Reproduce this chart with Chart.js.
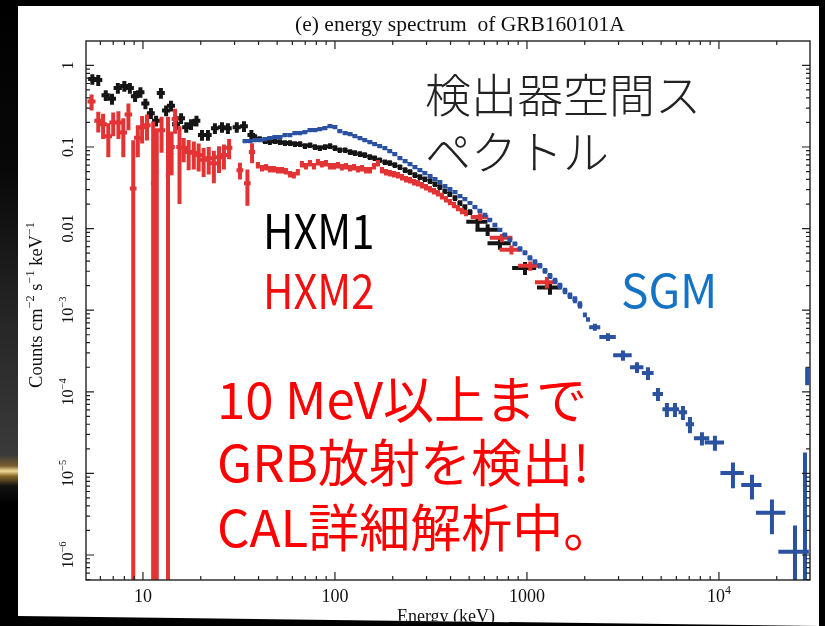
<!DOCTYPE html>
<html>
<head>
<meta charset="utf-8">
<title>GRB160101A energy spectrum</title>
<script src="https://cdn.jsdelivr.net/npm/chart.js@4.4.0/dist/chart.umd.min.js"></script>
<style>
  html, body { margin: 0; padding: 0; background: #000; }
  body { width: 825px; height: 626px; position: relative; overflow: hidden; }
  #edge {
    position: absolute; left: 0; top: 0; width: 18px; height: 626px;
    background: linear-gradient(to bottom, #000 0px, #080808 170px, #262626 320px, #3a3a3a 455px,
      #7a6030 466px, #f2dc98 471px, #8a6a28 476px, #121212 486px, #000 505px);
  }
  #panel {
    position: absolute; left: 18px; top: 6px; width: 801px; height: 620px; background: #fff;
    clip-path: polygon(0 0, 100% 0, 100% 100%, 0 610px);
  }
  #panel canvas { position: absolute; left: 0; top: 0; }
  .note { position: absolute; font-family: "Noto Sans CJK JP", sans-serif; font-weight: 400; white-space: nowrap; line-height: 1; }
  .light { font-weight: 300; }
  .narrow { transform: scaleX(0.87); transform-origin: left top; }
</style>
</head>
<body>
<div id="edge"></div>
<div id="panel">
  <canvas id="spectrum" width="801" height="620"></canvas>
  <div class="note light" style="left:407px; top:63px; font-size:46px; color:#222;">検出器空間ス</div>
  <div class="note light" style="left:407px; top:120px; font-size:46px; color:#222;">ペクトル</div>
  <div class="note narrow" style="left:245px; top:198px; font-size:48px; color:#000;">HXM1</div>
  <div class="note narrow" style="left:245px; top:258px; font-size:48px; color:#f01010;">HXM2</div>
  <div class="note" style="left:603px; top:259px; font-size:46px; color:#1573c3;">SGM</div>
  <div class="note" style="left:199px; top:366px; font-size:51px; color:#ff0000;">10 MeV以上まで</div>
  <div class="note" style="left:199px; top:429px; font-size:51px; color:#ff0000;">GRB放射を検出!</div>
  <div class="note" style="left:199px; top:494px; font-size:51px; color:#ff0000;">CAL詳細解析中。</div>
</div>

<script>
// ── Spectrum data (keV, counts cm^-2 s^-1 keV^-1) ───────────────────

const hxm1Energy = [5.45, 5.85, 6.4, 6.9, 7.4, 8.0, 8.55, 9.1, 9.7, 10.3, 11.0, 11.7, 12.4, 13.2, 14.0, 14.9, 15.8, 16.8, 17.8, 19.0,
  20.3, 21.8, 23.7, 25.8, 27.7, 30.8, 33.6, 36.7,
  38.3, 40.6, 43.2, 45.8, 48.7, 51.7, 54.9, 58.3, 61.9, 65.7, 69.8, 74.1, 78.7, 83.5, 88.7, 94.2, 100, 106, 113, 120,
  127, 135, 143, 152, 161, 171, 182, 193, 205, 218, 232, 246, 261, 277, 294, 313, 332, 352, 374, 397, 422, 448, 475, 505,
  553, 624, 723, 977, 1318];
const hxm1EnergyErr = [0.27, 0.29, 0.32, 0.34, 0.37, 0.4, 0.42, 0.45, 0.48, 0.5, 0.52, 0.55, 0.6, 0.64, 0.68, 0.72, 0.76, 0.8, 0.85, 0.9,
  0.95, 1.0, 1.1, 1.2, 1.3, 1.5, 1.6, 1.7,
  1.1, 1.2, 1.3, 1.4, 1.5, 1.6, 1.7, 1.8, 1.9, 2.0, 2.1, 2.2, 2.4, 2.5, 2.7, 2.8, 3.0, 3.2, 3.4, 3.6,
  3.8, 4.0, 4.3, 4.6, 4.8, 5.1, 5.5, 5.8, 6.2, 6.5, 7.0, 7.4, 7.8, 8.3, 8.8, 9.4, 10, 10.6, 11.2, 12, 12.6, 13.4, 14.2, 15.1,
  70, 85, 100, 140, 190];
const hxm1Rate = [0.68, 0.66, 0.43, 0.39, 0.53, 0.56, 0.53, 0.42, 0.47, 0.34, 0.26, 0.21, 0.46, 0.28, 0.32, 0.19, 0.225, 0.175, 0.19, 0.21,
  0.14, 0.14, 0.17, 0.175, 0.17, 0.175, 0.18, 0.14,
  0.132, 0.125, 0.118, 0.115, 0.118, 0.115, 0.112, 0.112, 0.1085, 0.1085, 0.1026, 0.1055, 0.0997, 0.0969, 0.0997, 0.1026, 0.0969, 0.0916, 0.0916, 0.0866,
  0.0842, 0.0819, 0.0796, 0.0752, 0.0731, 0.0691, 0.0653, 0.0635, 0.0600, 0.0567, 0.0521, 0.0493, 0.0453, 0.0428, 0.0404, 0.0382, 0.0351, 0.0323, 0.0288, 0.0265, 0.0237, 0.0206, 0.0184, 0.0160,
  0.0121, 0.0097, 0.0066, 0.0033, 0.0019];
const hxm1RateErr = [0.1, 0.1, 0.065, 0.06, 0.08, 0.085, 0.08, 0.065, 0.07, 0.05, 0.04, 0.032, 0.07, 0.042, 0.048, 0.029, 0.034, 0.026, 0.029, 0.032,
  0.021, 0.021, 0.026, 0.026, 0.026, 0.026, 0.027, 0.021,
  0.011, 0.01, 0.0095, 0.009, 0.0095, 0.009, 0.009, 0.009, 0.0087, 0.0087, 0.0082, 0.0084, 0.008, 0.0078, 0.008, 0.0082, 0.0078, 0.0073, 0.0073, 0.0069,
  0.0067, 0.0066, 0.0064, 0.006, 0.0058, 0.0055, 0.0052, 0.0051, 0.0048, 0.0045, 0.0042, 0.0039, 0.0036, 0.0034, 0.0032, 0.0031, 0.0028, 0.0026, 0.0023, 0.0021, 0.0019, 0.0017, 0.0015, 0.0013,
  0.002, 0.0016, 0.0011, 0.0006, 0.00035];

const hxm2Energy = [5.4, 5.85, 6.2, 6.6, 7.0, 7.45, 7.9, 8.4, 8.9, 9.4, 9.9, 10.5, 11.3, 11.8, 12.5, 13.5, 14.1, 14.7, 15.5, 16.3,
  17.3, 18.4, 19.5, 20.7, 22.0, 23.4, 24.9, 26.4, 28.1, 32.0, 35.0, 37.0,
  39.7, 41.7, 43.8, 45.8, 48.1, 50.5, 53.0, 55.6, 58.3, 61.1, 64.1, 67.3, 70.6, 74.1, 77.8, 81.5, 85.5, 89.8, 94.2, 98.8,
  103.7, 108.7, 114.1, 119.7, 125.6, 131.8, 138.3, 145.0, 152.2, 159.7, 167.5, 175.8, 184.4, 193.3, 202.9, 212.9, 223.4, 234.4, 246.0, 257.9,
  270.6, 283.9, 297.9, 312.6, 328.0, 343.9, 360.8, 378.6, 397.2, 416.8, 437.3, 458.6, 481.1,
  569, 740, 830, 1040, 1270];
const hxm2EnergyErr = [0.26, 0.27, 0.29, 0.3, 0.32, 0.34, 0.36, 0.38, 0.36, 0.42, 0.44, 0.47, 0.3, 0.3, 0.55, 0.35, 0.55, 0.6, 0.6, 0.66,
  0.7, 0.75, 0.8, 0.85, 0.88, 0.92, 0.98, 1.05, 1.1, 1.3, 1.4, 1.4,
  1.0, 1.0, 1.1, 1.1, 1.2, 1.3, 1.3, 1.4, 1.5, 1.5, 1.6, 1.7, 1.8, 1.9, 1.9, 2.0, 2.1, 2.2, 2.4, 2.5,
  2.6, 2.7, 2.9, 3.0, 3.1, 3.3, 3.5, 3.6, 3.8, 4.0, 4.2, 4.4, 4.6, 4.8, 5.1, 5.3, 5.6, 5.9, 6.2, 6.4,
  6.8, 7.1, 7.4, 7.8, 8.2, 8.6, 9.0, 9.5, 9.9, 10.4, 10.9, 11.5, 12.0,
  60, 100, 110, 140, 170];
const hxm2Rate = [0.36, 0.21, 0.19, 0.135, 0.20, 0.20, 0.15, 0.25, 0.031, 0.13, 0.175, 0.185, 0.036, 0.05, 0.16, 0.045, 0.1, 0.22, 0.1, 0.097,
  0.087, 0.085, 0.08, 0.07, 0.073, 0.063, 0.075, 0.08, 0.098, 0.052, 0.036, 0.087,
  0.0600, 0.0551, 0.0567, 0.0536, 0.0536, 0.0521, 0.0521, 0.0507, 0.0466, 0.0453, 0.0493, 0.0617, 0.0583, 0.0635, 0.0583, 0.0653, 0.0617, 0.0635, 0.0583, 0.0583,
  0.0600, 0.0567, 0.0583, 0.0551, 0.0567, 0.0536, 0.0551, 0.0521, 0.0521, 0.0583, 0.0635, 0.0521, 0.0493, 0.0479, 0.0466, 0.0453, 0.0428, 0.0404, 0.0393, 0.0372,
  0.0361, 0.0342, 0.0323, 0.0305, 0.0288, 0.0273, 0.0251, 0.0230, 0.0212, 0.0195, 0.0179, 0.0165, 0.0156,
  0.0139, 0.0077, 0.0055, 0.0035, 0.0022];
const hxm2RateErr = [0.08, 0.06, 0.065, 0.06, 0.065, 0.075, 0.075, 0.09, 0.09, 0.055, 0.065, 0.065, 0.17, 0.12, 0.075, 0.19, 0.055, 0.075, 0.08, 0.032,
  0.035, 0.032, 0.03, 0.027, 0.027, 0.027, 0.027, 0.027, 0.027, 0.012, 0.017, 0.024,
  0.0055, 0.005, 0.0052, 0.0049, 0.0049, 0.0048, 0.0048, 0.0046, 0.0043, 0.0042, 0.0045, 0.0056, 0.0053, 0.0058, 0.0053, 0.0059, 0.0056, 0.0058, 0.0053, 0.0053,
  0.0055, 0.0052, 0.0053, 0.005, 0.0052, 0.0049, 0.005, 0.0048, 0.0048, 0.0053, 0.0058, 0.0048, 0.0045, 0.0044, 0.0042, 0.0041, 0.0039, 0.0037, 0.0036, 0.0034,
  0.0033, 0.0031, 0.0029, 0.0028, 0.0026, 0.0025, 0.0023, 0.0021, 0.0019, 0.0018, 0.0016, 0.0015, 0.0014,
  0.0015, 0.0009, 0.0007, 0.00045, 0.00035];

const sgmEnergy = [34.0, 36.1, 38.3, 40.6, 43.2, 45.8, 48.7, 51.7, 54.9, 58.3, 61.9, 65.7, 69.8, 74.1, 78.7, 83.5, 88.7, 94.2, 100, 106,
  113, 120, 127, 135, 143, 152, 161, 171, 182, 193, 205, 218, 232, 246, 261, 277, 294, 313, 332, 352,
  374, 397, 422, 448, 475, 505, 536, 569, 604, 641, 681, 723, 767, 815, 866, 920, 977, 1037, 1101, 1169,
  1242, 1318, 1400, 1486, 1578, 1675, 1778, 1888,
  2004, 2080, 2259, 2642, 3162, 3743, 4268, 4812, 5358, 5900, 6494, 7063, 8155, 9530, 11830, 14860, 18880, 24890, 28060, 28800];
const sgmEnergyErr = [1.0, 1.1, 1.1, 1.2, 1.3, 1.4, 1.5, 1.6, 1.6, 1.7, 1.9, 2.0, 2.1, 2.2, 2.4, 2.5, 2.7, 2.8, 3.0, 3.2,
  3.4, 3.6, 3.8, 4.0, 4.3, 4.6, 4.8, 5.1, 5.5, 5.8, 6.2, 6.5, 7.0, 7.4, 7.8, 8.3, 8.8, 9.4, 10, 10.6,
  11.2, 12, 12.6, 13.4, 14.2, 15.1, 16, 17, 18, 19, 20, 22, 23, 24, 26, 28, 29, 31, 33, 35,
  37, 40, 42, 45, 47, 50, 53, 57,
  45, 45, 150, 260, 350, 300, 300, 300, 280, 300, 330, 350, 750, 1100, 1650, 1800, 3300, 4500, 250, 250];
const sgmRate = [0.1181, 0.1181, 0.1215, 0.1215, 0.1249, 0.1285, 0.1322, 0.1322, 0.1399, 0.1399, 0.1480, 0.1480, 0.1523, 0.1610, 0.1610, 0.1657, 0.1704, 0.1808, 0.1753, 0.1566,
  0.1480, 0.1439, 0.1360, 0.1285, 0.1215, 0.1148, 0.1085, 0.1026, 0.0969, 0.0891, 0.0819, 0.0731, 0.0672, 0.0617, 0.0567, 0.0521, 0.0479, 0.0440, 0.0404, 0.0372,
  0.0332, 0.0305, 0.0280, 0.0251, 0.0230, 0.0206, 0.0184, 0.0165, 0.0147, 0.0128, 0.0111, 0.00966, 0.00839, 0.0073, 0.00652, 0.00566, 0.00506, 0.00439, 0.00392, 0.00351,
  0.00304, 0.00264, 0.00229, 0.00199, 0.00173, 0.00151, 0.00135, 0.00117,
  0.00088, 0.00077, 0.00062, 0.00047, 0.00028, 0.0002, 0.00017, 0.000094, 0.000061, 0.000061, 0.000056, 0.00004, 0.000027, 0.000024,
  0.0000101, 0.0000072, 0.0000033, 0.0000011, 0.0000054, 0.00016];
const sgmRateErr = [0.0071, 0.0071, 0.0073, 0.0073, 0.0075, 0.0077, 0.0079, 0.0079, 0.0084, 0.0084, 0.0089, 0.0089, 0.0091, 0.0097, 0.0097, 0.0099, 0.0102, 0.0108, 0.0105, 0.0094,
  0.0089, 0.0086, 0.0082, 0.0077, 0.0073, 0.0069, 0.0065, 0.0062, 0.0058, 0.0053, 0.0049, 0.0044, 0.004, 0.0037, 0.0034, 0.0031, 0.0029, 0.0026, 0.0024, 0.0022,
  0.002, 0.0018, 0.0017, 0.0015, 0.0014, 0.0012, 0.0011, 0.001, 0.0009, 0.0008, 0.0007, 0.0006, 0.00054, 0.00048, 0.00044, 0.0004, 0.00036, 0.00032, 0.0003, 0.00027,
  0.00024, 0.00022, 0.0002, 0.00018, 0.00016, 0.00014, 0.00013, 0.00012,
  0.00006, 0.00005, 0.00006, 0.00005, 0.00004, 0.00003, 0.00003, 0.000017, 0.000012, 0.000012, 0.000011, 0.000009, 0.000005, 0.000005,
  0.0000035, 0.0000024, 0.0000015, 0.0000012, 0.0000126, 0.00004];

// axis range and tick labels
const energyRange = [5.05, 29800];
const rateRange = [4.94e-7, 1.99];
const energyTicks = [10, 100, 1000, 10000];
const energyTickLabels = [['10'], ['100'], ['1000'], ['10', '4']];
const rateTicks = [1, 0.1, 0.01, 1e-3, 1e-4, 1e-5, 1e-6];
const rateTickLabels = [['1'], ['0.1'], ['0.01'], ['10', '−3'], ['10', '−4'], ['10', '−5'], ['10', '−6']];

const SERIF = '"Liberation Serif", "Times New Roman", serif';

function toPoints(energy, energyErr, rate, rateErr) {
    return energy.map((e, i) => ({ x: e, y: rate[i], xErr: energyErr[i], yErr: rateErr[i] }));
}

// ── Error-bar crosses ─────────────────────────────────────────────────

const errorBars = {
    id: 'errorBars',
    afterDatasetsDraw(chart) {
        const { ctx, chartArea: a, scales: { x, y } } = chart;
        ctx.save();
        ctx.beginPath();
        ctx.rect(a.left, a.top, a.right - a.left, a.bottom - a.top);
        ctx.clip();
        chart.data.datasets.forEach(ds => {
            ctx.strokeStyle = ds.borderColor;
            ctx.lineWidth = ds.barWidth;
            ctx.beginPath();
            ds.data.forEach(p => {
                const cx = x.getPixelForValue(p.x);
                const cy = y.getPixelForValue(p.y);
                const x0 = x.getPixelForValue(p.x - p.xErr);
                const x1 = x.getPixelForValue(p.x + p.xErr);
                const lo = p.y - p.yErr;
                const y0 = lo > 0 ? y.getPixelForValue(lo) : a.bottom + 10;
                const y1 = y.getPixelForValue(p.y + p.yErr);
                ctx.moveTo(x0, cy); ctx.lineTo(x1, cy);
                ctx.moveTo(cx, y0); ctx.lineTo(cx, y1);
            });
            ctx.stroke();
        });
        ctx.restore();
    }
};

// ── Frame, inward ticks and labels ────────────────────────────────────

function drawParts(ctx, parts, size, cx, baseline) {
    const supSize = size * 0.66;
    const widths = parts.map((t, i) => {
        ctx.font = `${i % 2 ? supSize : size}px ${SERIF}`;
        return ctx.measureText(t).width;
    });
    let px = cx - widths.reduce((s, w) => s + w, 0) / 2;
    ctx.textAlign = 'left';
    ctx.textBaseline = 'alphabetic';
    parts.forEach((t, i) => {
        const sup = i % 2 === 1;
        ctx.font = `${sup ? supSize : size}px ${SERIF}`;
        ctx.fillText(t, px, sup ? baseline - size * 0.42 : baseline);
        px += widths[i];
    });
}

const frame = {
    id: 'frame',
    afterDraw(chart) {
        const { ctx, chartArea: a, scales: { x, y } } = chart;
        ctx.save();
        ctx.strokeStyle = '#222';
        ctx.lineWidth = 1.4;
        ctx.strokeRect(a.left, a.top, a.right - a.left, a.bottom - a.top);

        ctx.lineWidth = 1.2;
        ctx.beginPath();
        for (let d = 0; d <= 4; d++) {
            for (let k = 1; k <= 9; k++) {
                const v = k * 10 ** d;
                if (v <= x.min || v >= x.max) continue;
                const len = k === 1 ? 8 : 4;
                const px = x.getPixelForValue(v);
                ctx.moveTo(px, a.bottom); ctx.lineTo(px, a.bottom - len);
                ctx.moveTo(px, a.top); ctx.lineTo(px, a.top + len);
            }
        }
        for (let d = -7; d <= 0; d++) {
            for (let k = 1; k <= 9; k++) {
                const v = k * 10 ** d;
                if (v <= y.min || v >= y.max) continue;
                const len = k === 1 ? 8 : 4;
                const py = y.getPixelForValue(v);
                ctx.moveTo(a.left, py); ctx.lineTo(a.left + len, py);
                ctx.moveTo(a.right, py); ctx.lineTo(a.right - len, py);
            }
        }
        ctx.stroke();

        ctx.fillStyle = '#111';
        energyTicks.forEach((v, i) => {
            drawParts(ctx, energyTickLabels[i], 18, x.getPixelForValue(v), a.bottom + 22);
        });
        rateTicks.forEach((v, i) => {
            ctx.save();
            ctx.translate(a.left - 19, y.getPixelForValue(v));
            ctx.rotate(-Math.PI / 2);
            drawParts(ctx, rateTickLabels[i], 16, 0, 5.5);
            ctx.restore();
        });

        drawParts(ctx, ['(e) energy spectrum  of GRB160101A'], 21.5, 442, 25);
        drawParts(ctx, ['Energy (keV)'], 18, 428, a.bottom + 42);

        ctx.save();
        ctx.translate(18, 299);
        ctx.rotate(-Math.PI / 2);
        drawParts(ctx, ['Counts cm', '−2', ' s', '−1', ' keV', '−1'], 18.5, 0, 6);
        ctx.restore();
        ctx.restore();
    }
};

// ── Chart ─────────────────────────────────────────────────────────────

const series = [
    { label: 'HXM1', color: '#151515', pts: toPoints(hxm1Energy, hxm1EnergyErr, hxm1Rate, hxm1RateErr) },
    { label: 'HXM2', color: '#e23434', pts: toPoints(hxm2Energy, hxm2EnergyErr, hxm2Rate, hxm2RateErr) },
    { label: 'SGM',  color: '#2b52a0', pts: toPoints(sgmEnergy, sgmEnergyErr, sgmRate, sgmRateErr) },
];

new Chart(document.getElementById('spectrum'), {
    type: 'scatter',
    data: {
        datasets: series.map(s => ({
            label: s.label,
            data: s.pts,
            borderColor: s.color,
            backgroundColor: s.color,
            pointRadius: 0,
            barWidth: 4,
        })),
    },
    options: {
        responsive: false,
        animation: false,
        layout: { padding: { left: 68, top: 35, right: 9, bottom: 46 } },
        plugins: { legend: { display: false }, tooltip: { enabled: false }, title: { display: false } },
        scales: {
            x: { type: 'logarithmic', min: energyRange[0], max: energyRange[1], display: false },
            y: { type: 'logarithmic', min: rateRange[0], max: rateRange[1], display: false },
        },
    },
    plugins: [errorBars, frame],
});
</script>
</body>
</html>
